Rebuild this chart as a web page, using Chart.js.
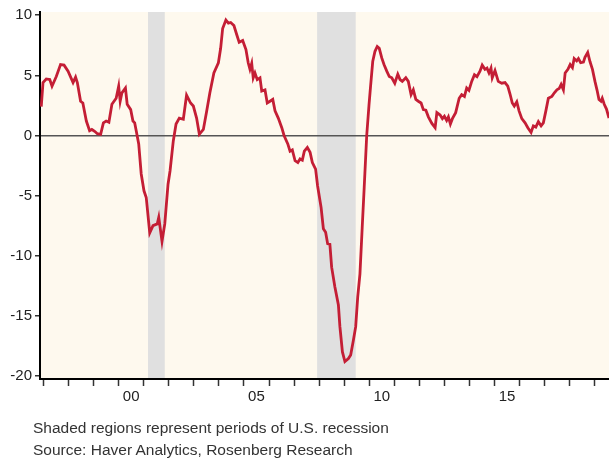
<!DOCTYPE html>
<html>
<head>
<meta charset="utf-8">
<script src="https://cdn.jsdelivr.net/npm/chart.js@4/dist/chart.umd.min.js"></script>
<style>
  html, body { margin: 0; padding: 0; background: #fff; }
  #wrap { position: relative; width: 609px; height: 460px; }
  .note { position: absolute; left: 33px; font: 15.5px "Liberation Sans", Arial, sans-serif; color: #333; white-space: nowrap; }
</style>
</head>
<body>
<div id="wrap">
  <canvas id="chart" width="609" height="460"></canvas>
  <div class="note" style="top:419px">Shaded regions represent periods of U.S. recession</div>
  <div class="note" style="top:441px">Source: Haver Analytics, Rosenberg Research</div>
</div>
<script>
// dates as decimal years, values in %
const dates = [
  1996.91, 1996.98, 1997.11, 1997.25, 1997.34, 1997.51, 1997.68, 1997.82, 1997.98, 1998.18,
  1998.28, 1998.35, 1998.48, 1998.57, 1998.71, 1998.84, 1998.93, 1999.04, 1999.15, 1999.28,
  1999.39, 1999.50, 1999.61, 1999.73, 1999.90, 2000.00, 2000.06, 2000.13, 2000.27, 2000.34,
  2000.48, 2000.57, 2000.64, 2000.70, 2000.80, 2000.90, 2001.01, 2001.10, 2001.24, 2001.37,
  2001.54, 2001.60, 2001.73, 2001.84, 2001.97, 2002.05, 2002.18, 2002.29, 2002.42, 2002.58,
  2002.71, 2002.87, 2002.98, 2003.11, 2003.22, 2003.38, 2003.51, 2003.64, 2003.80, 2003.98,
  2004.07, 2004.15, 2004.28, 2004.38, 2004.47, 2004.60, 2004.71, 2004.81, 2004.95, 2005.08,
  2005.17, 2005.24, 2005.31, 2005.37, 2005.44, 2005.53, 2005.64, 2005.71, 2005.84, 2005.93,
  2006.04, 2006.15, 2006.24, 2006.37, 2006.51, 2006.60, 2006.75, 2006.84, 2006.93, 2007.04,
  2007.15, 2007.24, 2007.33, 2007.41, 2007.53, 2007.64, 2007.73, 2007.86, 2007.94, 2008.08,
  2008.17, 2008.26, 2008.34, 2008.43, 2008.50, 2008.63, 2008.77, 2008.83, 2008.93, 2009.03,
  2009.17, 2009.26, 2009.37, 2009.46, 2009.54, 2009.63, 2009.72, 2009.80, 2009.90, 2009.99,
  2010.05, 2010.14, 2010.23, 2010.32, 2010.40, 2010.50, 2010.59, 2010.70, 2010.80, 2010.90,
  2011.02, 2011.14, 2011.23, 2011.32, 2011.46, 2011.56, 2011.67, 2011.76, 2011.86, 2011.96,
  2012.07, 2012.16, 2012.26, 2012.36, 2012.50, 2012.63, 2012.70, 2012.83, 2012.92, 2013.00,
  2013.09, 2013.16, 2013.24, 2013.32, 2013.45, 2013.59, 2013.69, 2013.80, 2013.89, 2013.98,
  2014.09, 2014.20, 2014.30, 2014.42, 2014.51, 2014.62, 2014.70, 2014.78, 2014.86, 2014.91,
  2015.02, 2015.15, 2015.29, 2015.42, 2015.53, 2015.62, 2015.71, 2015.79, 2015.89, 2015.98,
  2016.09, 2016.22, 2016.33, 2016.46, 2016.55, 2016.65, 2016.75, 2016.86, 2016.95, 2017.05,
  2017.15, 2017.29, 2017.39, 2017.49, 2017.58, 2017.66, 2017.75, 2017.82, 2017.93, 2018.02,
  2018.11, 2018.18, 2018.28, 2018.35, 2018.44, 2018.55, 2018.61, 2018.72, 2018.81, 2018.91,
  2019.01, 2019.09, 2019.17, 2019.25, 2019.30, 2019.38, 2019.47, 2019.57
];
const values = [
  2.4, 4.4, 4.7, 4.65, 4.1, 4.9, 5.9, 5.85, 5.35, 4.4,
  4.85, 4.4, 2.85, 2.7, 1.2, 0.4, 0.5, 0.35, 0.15, 0.1,
  1.05, 1.2, 1.1, 2.6, 3.1, 4.1, 2.85, 3.55, 3.95, 2.6,
  2.15, 1.2, 1.05, 0.4, -0.7, -3.2, -4.6, -5.15, -8.1, -7.5,
  -7.35, -6.8, -8.8, -7.35, -4.05, -2.95, -0.45, 0.95, 1.45, 1.35,
  3.35, 2.7, 2.45, 1.45, 0.1, 0.5, 2.0, 3.55, 5.2, 6.05,
  7.25, 8.9, 9.6, 9.35, 9.4, 9.15, 8.4, 7.75, 7.9, 7.15,
  6.05, 5.5, 6.0, 4.8, 5.2, 4.65, 4.8, 3.7, 3.8, 2.7,
  2.85, 3.0, 2.05, 1.45, 0.65, 0.0, -0.7, -1.3, -1.2, -2.1,
  -2.25, -1.95, -2.05, -1.3, -1.0, -1.4, -2.25, -2.8, -4.2, -6.0,
  -7.75, -8.05, -9.0, -9.05, -10.95, -12.6, -14.1, -15.9, -18.0, -18.8,
  -18.55, -18.25, -17.0, -15.9, -13.45, -11.5, -7.65, -4.3, 0.0, 2.5,
  4.0, 6.15, 7.0, 7.4, 7.25, 6.45, 5.9, 5.35, 4.9, 4.8,
  4.35, 5.1, 4.65, 4.5, 4.8, 4.5, 3.4, 3.8, 3.0, 2.85,
  2.7, 2.15, 2.1, 1.55, 1.0, 0.65, 1.9, 1.7, 1.4, 1.6,
  1.25, 1.55, 0.95, 1.4, 1.9, 3.1, 3.4, 3.25, 3.95, 3.75,
  4.5, 5.05, 4.9, 5.35, 5.85, 5.5, 5.6, 5.2, 5.6, 4.8,
  5.4, 4.5, 4.35, 4.4, 4.1, 3.45, 2.7, 2.45, 2.8, 2.05,
  1.4, 1.05, 0.65, 0.25, 0.8, 0.7, 1.15, 0.8, 1.05, 2.05,
  3.1, 3.25, 3.55, 3.8, 3.9, 4.25, 3.8, 5.2, 5.5, 5.9,
  5.65, 6.4, 6.2, 6.4, 6.05, 6.1, 6.5, 6.9, 6.15, 5.5,
  4.5, 3.8, 3.0, 2.85, 3.1, 2.6, 2.2, 1.45
];

// recessions (Mar-Nov 2001, Dec 2007-Jun 2009)
const recStart = [2001.17, 2007.92];
const recEnd = [2001.84, 2009.46];

const yTicks = [-20, -15, -10, -5, 0, 5, 10];
const xTicks = [1997, 1998, 1999, 2000, 2001, 2002, 2003, 2004, 2005, 2006, 2007, 2008,
  2009, 2010, 2011, 2012, 2013, 2014, 2015, 2016, 2017, 2018, 2019];
const xLabels = { 2000: "00", 2005: "05", 2010: "10", 2015: "15" };

const backdrop = {
  id: "backdrop",
  beforeDraw(chart) {
    const { ctx, chartArea: a, scales: { x } } = chart;
    ctx.save();
    ctx.fillStyle = "#fef9ee";
    ctx.fillRect(a.left, a.top, a.right - a.left, a.bottom - a.top);
    ctx.fillStyle = "#e0e0e0";
    recStart.forEach((s, i) => {
      const x0 = x.getPixelForValue(s), x1 = x.getPixelForValue(recEnd[i]);
      ctx.fillRect(x0, a.top, x1 - x0, a.bottom - a.top);
    });
    ctx.restore();
  }
};

const font = { family: "'Liberation Sans', Arial, sans-serif", size: 15 };

new Chart(document.getElementById("chart"), {
  type: "line",
  data: {
    datasets: [{
      data: dates.map((d, i) => ({ x: d, y: values[i] })),
      borderColor: "#c41e35",
      borderWidth: 2.8,
      pointRadius: 0,
      tension: 0
    }]
  },
  options: {
    responsive: false,
    animation: false,
    layout: { padding: { top: 10, left: 0, right: 0, bottom: 50 } },
    plugins: { legend: { display: false }, tooltip: { enabled: false } },
    scales: {
      x: {
        type: "linear",
        min: 1996.86,
        max: 2019.57,
        afterBuildTicks: s => { s.ticks = xTicks.map(v => ({ value: v })); },
        afterFit: s => { s.height = 31; },
        border: { display: true, color: "#000", width: 2 },
        grid: { drawOnChartArea: false, tickLength: 7, tickColor: "#333", tickWidth: 1.5 },
        ticks: {
          font, color: "#222", padding: 2, maxRotation: 0, autoSkip: false,
          labelOffset: 12.5,
          callback: v => xLabels[v] || ""
        }
      },
      y: {
        min: -20.25,
        max: 10.27,
        afterBuildTicks: s => { s.ticks = yTicks.map(v => ({ value: v })); },
        afterFit: s => { s.width = 40; },
        border: { display: true, color: "#000", width: 2 },
        grid: {
          color: c => (c.tick && c.tick.value === 0 ? "#555" : "rgba(0,0,0,0)"),
          lineWidth: 1.5,
          tickLength: 5, tickColor: "#333", tickWidth: 1.5
        },
        ticks: { font, color: "#222", padding: 3 }
      }
    }
  },
  plugins: [backdrop]
});
</script>
</body>
</html>
